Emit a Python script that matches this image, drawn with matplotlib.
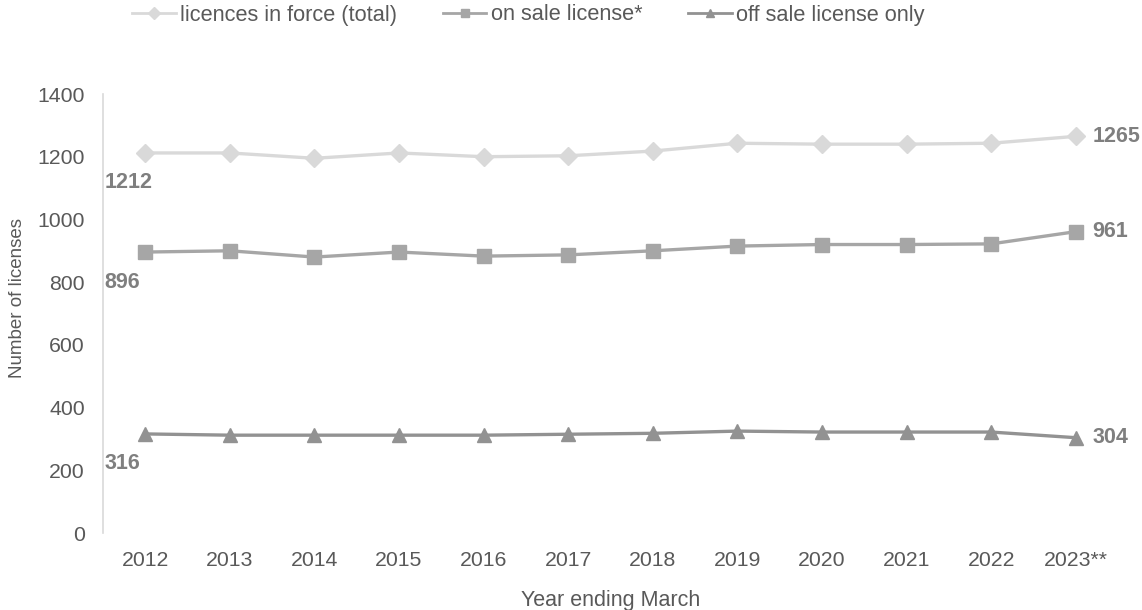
import matplotlib
matplotlib.use("Agg")
import matplotlib.pyplot as plt

years = ["2012", "2013", "2014", "2015", "2016", "2017", "2018", "2019", "2020", "2021", "2022", "2023**"]
total = [1212, 1212, 1195, 1212, 1200, 1203, 1218, 1243, 1240, 1240, 1243, 1265]
on_sale = [896, 900, 880, 896, 883, 887, 900, 915, 920, 920, 922, 961]
off_sale = [316, 312, 312, 312, 312, 315, 318, 325, 322, 322, 322, 304]

plt.rcParams['font.family'] = ['Liberation Sans', 'DejaVu Sans']

fig = plt.figure(figsize=(11.42, 6.10), dpi=100)
ax = fig.add_axes([0.0902, 0.1262, 0.979 - 0.0902, 0.8459 - 0.1262])

x = list(range(len(years)))
series = [
    (total, "licences in force (total)", "#d9d9d9", "D", 9),
    (on_sale, "on sale license*", "#a6a6a6", "s", 10),
    (off_sale, "off sale license only", "#929292", "^", 10),
]
for vals, lab, col, mk, ms in series:
    ax.plot(x, vals, color=col, lw=2.4, marker=mk, markersize=ms, label=lab,
            markeredgecolor=col, markerfacecolor=col)
    ax.annotate(str(vals[0]), (x[0], vals[0]), xytext=(-41, -30), textcoords="offset pixels",
                ha="left", va="center", fontsize=15.5, fontweight="bold", color="#7f7f7f")
    ax.annotate(str(vals[-1]), (x[-1], vals[-1]), xytext=(17, 0), textcoords="offset pixels",
                ha="left", va="center", fontsize=15.5, fontweight="bold", color="#7f7f7f")

ax.set_xlim(-0.5, len(years) - 0.5)
ax.set_ylim(0, 1400)
ax.set_yticks(range(0, 1401, 200))
ax.set_xticks(x)
ax.set_xticklabels(years)
for s in ["top", "right", "bottom"]:
    ax.spines[s].set_visible(False)
ax.spines["left"].set_color("#d9d9d9")
ax.spines["left"].set_linewidth(1.2)
ax.tick_params(axis="both", length=0, labelsize=15.3, colors="#595959")
ax.tick_params(axis="y", pad=13)
ax.tick_params(axis="x", pad=13)
ax.set_xlabel("Year ending March", fontsize=15.5, color="#595959", labelpad=14)
ax.set_ylabel("Number of licenses", fontsize=13.5, color="#595959")
ax.yaxis.set_label_coords(-0.076, 0.535)

leg = fig.legend(loc="center left", bbox_to_anchor=(132 / 1142, 1 - 15 / 610), ncol=3,
                 frameon=False, fontsize=15.7, handlelength=2.0, handletextpad=0.2,
                 columnspacing=2.1, borderpad=0, borderaxespad=0, labelcolor="#595959")
for h in leg.legend_handles:
    h.set_markersize(6)
    h.set_linewidth(2)

fig.savefig("out.png", dpi=100)
